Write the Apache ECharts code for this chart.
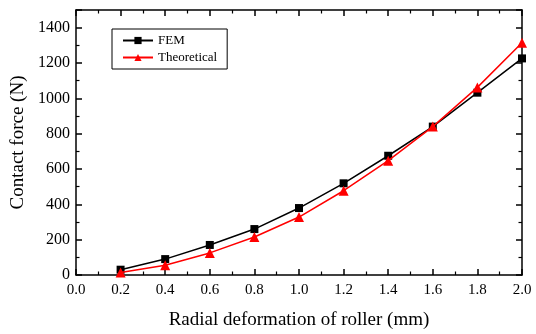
<!DOCTYPE html>
<html>
<head>
<meta charset="utf-8">
<script src="https://cdn.jsdelivr.net/npm/echarts@6/dist/echarts.min.js"></script>
<style>
  html, body { margin: 0; padding: 0; background: #fff; }
  #chart { width: 536px; height: 334px; }
</style>
</head>
<body>
<div id="chart"></div>
<script>
const deformation = [0.2, 0.4, 0.6, 0.8, 1.0, 1.2, 1.4, 1.6, 1.8, 2.0]
const femForce = [30, 90, 170, 260, 379, 519, 675, 840, 1032, 1226]
const theoreticalForce = [14, 55, 125, 215, 328, 477, 647, 840, 1062, 1315]

const font = "Liberation Serif"
const axisLine = { show: true, onZero: false, lineStyle: { color: "#000", width: 1.5 } }

// shared tick style, inside ticks plus one minor tick between majors
const ticks = {
  axisTick: { inside: true, length: 6, lineStyle: { color: "#000", width: 1.5 } },
  minorTick: { show: true, splitNumber: 2, length: 3.5, lineStyle: { color: "#000", width: 1.2 } },
  splitLine: { show: false },
  minorSplitLine: { show: false },
}

const chart = echarts.init(document.getElementById("chart"))

chart.setOption({
  animation: false,
  grid: { left: 76, right: 14, top: 10, bottom: 59, containLabel: false, outerBoundsMode: "none" },
  legend: {
    left: 112,
    top: 29,
    orient: "vertical",
    itemWidth: 30,
    itemHeight: 9,
    itemGap: 4,
    padding: [5, 10, 5, 10],
    borderColor: "#000",
    borderWidth: 1,
    textStyle: { fontFamily: font, fontSize: 13, color: "#000" },
    data: ["FEM", "Theoretical"],
  },
  xAxis: [
    {
      type: "value",
      min: 0,
      max: 2,
      interval: 0.2,
      axisLine,
      ...ticks,
      axisLabel: {
        color: "#000",
        fontFamily: font,
        fontSize: 15,
        margin: 8,
        formatter: (v) => v.toFixed(1),
      },
      name: "Radial deformation of roller (mm)",
      nameLocation: "middle",
      nameGap: 36,
      nameTextStyle: { fontFamily: font, fontSize: 19, color: "#000" },
    },
    {
      type: "value",
      position: "top",
      min: 0,
      max: 2,
      interval: 0.2,
      axisLine,
      ...ticks,
      axisLabel: { show: false },
    },
  ],
  yAxis: [
    {
      type: "value",
      min: 0,
      max: 1500,
      interval: 200,
      axisLine,
      ...ticks,
      axisLabel: {
        color: "#000",
        fontFamily: font,
        fontSize: 16,
        margin: 6,
        showMaxLabel: false,
        formatter: (v) => String(v),
      },
      name: "Contact force (N)",
      nameLocation: "middle",
      nameGap: 44,
      nameTextStyle: { fontFamily: font, fontSize: 19, color: "#000" },
    },
    {
      type: "value",
      position: "right",
      min: 0,
      max: 1500,
      interval: 200,
      axisLine,
      ...ticks,
      axisLabel: { show: false },
    },
  ],
  series: [
    {
      name: "FEM",
      type: "line",
      data: deformation.map((x, i) => [x, femForce[i]]),
      symbol: "rect",
      symbolSize: 8,
      lineStyle: { color: "#000", width: 1.5 },
      itemStyle: { color: "#000" },
      z: 3,
    },
    {
      name: "Theoretical",
      type: "line",
      data: deformation.map((x, i) => [x, theoreticalForce[i]]),
      symbol: "triangle",
      symbolSize: 10,
      lineStyle: { color: "#ff0000", width: 1.5 },
      itemStyle: { color: "#ff0000" },
      z: 4,
    },
  ],
})
</script>
</body>
</html>
